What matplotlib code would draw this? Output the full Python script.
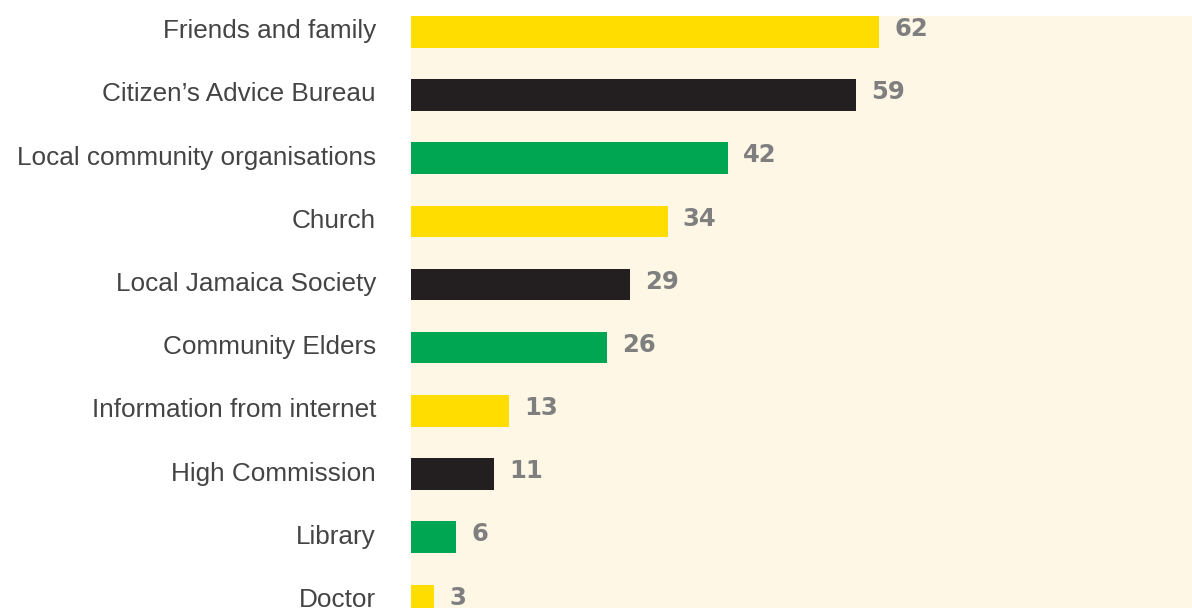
import matplotlib.pyplot as plt
import matplotlib.transforms as mtransforms
from matplotlib import font_manager

sources = ['Friends and family', 'Citizen\u2019s Advice Bureau', 'Local community organisations',
           'Church', 'Local Jamaica Society', 'Community Elders', 'Information from internet',
           'High Commission', 'Library', 'Doctor']
counts = [62, 59, 42, 34, 29, 26, 13, 11, 6, 3]
palette = ['#FFDD00', '#231F20', '#00A651']

# pick the regular-width Liberation Sans file (not the Narrow one)
label_font = None
for f in font_manager.fontManager.ttflist:
    if f.fname.endswith('LiberationSans-Regular.ttf'):
        label_font = font_manager.FontProperties(fname=f.fname, size=18.8)
        break
if label_font is None:
    label_font = font_manager.FontProperties(family='DejaVu Sans', size=17)

fig = plt.figure(figsize=(11.92, 6.08), dpi=100)
ax = fig.add_axes([411 / 1192, 0, 1 - 411 / 1192, 1 - 16 / 608])
ax.set_facecolor('#FEF7E6')

pos = list(range(len(sources)))
cols = [palette[i % 3] for i in pos]
ax.barh(pos, counts, height=0.5, color=cols)

for p, v in zip(pos, counts):
    ax.annotate(str(v), (v, p), xytext=(11, 2), textcoords='offset points',
                va='center', ha='left', fontsize=17.5, fontweight='bold',
                color='#7F7F80', family='DejaVu Sans')

# category names, right-aligned a little left of the axes
trans = mtransforms.blended_transform_factory(ax.transAxes, ax.transData)
shift = mtransforms.ScaledTranslation(-35 / 100, 3 / 100, fig.dpi_scale_trans)
for p, name in zip(pos, sources):
    ax.text(0, p, name, transform=trans + shift, ha='right', va='center_baseline',
            fontproperties=label_font, color='#444444', clip_on=False)

ax.set_xlim(0, 103.5)
ax.set_ylim(9.12, -0.25)
ax.set_xticks([])
ax.set_yticks([])
for s in ax.spines.values():
    s.set_visible(False)

fig.savefig('out.png', dpi=100)
